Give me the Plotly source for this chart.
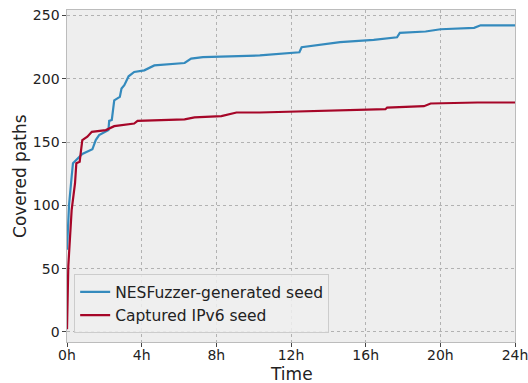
import plotly.graph_objects as go

# Time in hours, covered paths
blue_t = [0.0, 0.11, 0.25, 0.32, 0.82, 1.36, 1.54, 1.72, 2.22, 2.26, 2.40, 2.53, 2.83, 2.92, 3.07, 3.30, 3.60, 4.14, 4.68, 6.30, 6.65, 7.28, 10.33, 11.58, 12.45, 12.57, 14.63, 16.43, 17.68, 17.83, 19.21, 20.01, 21.81, 22.16, 24.0]
blue_v = [65, 100.5, 122.8, 133.3, 140.6, 144.3, 151.6, 155.5, 159.5, 166.8, 167.5, 183, 185.7, 192.3, 195, 202, 205.4, 206.7, 210.6, 212.5, 216, 217.2, 218.5, 220.3, 221, 225, 229, 230.8, 232.8, 236.3, 237.4, 239.2, 240.3, 242.3, 242.3]

red_t = [0.0, 0.07, 0.25, 0.43, 0.50, 0.68, 0.74, 0.82, 1.09, 1.33, 2.08, 2.53, 3.60, 3.78, 6.30, 6.83, 8.27, 9.08, 10.33, 17.06, 17.15, 19.12, 19.48, 21.99, 24.0]
red_v = [2, 52, 96.5, 117.5, 133.3, 134.5, 142, 151.6, 154.2, 158.1, 159.5, 162.6, 164.7, 166.8, 167.9, 169.5, 170.5, 173.4, 173.4, 176, 177.3, 178.4, 180.5, 181.3, 181.3]

x_tickvals = [0, 4, 8, 12, 16, 20, 24]
x_ticktext = ["0h", "4h", "8h", "12h", "16h", "20h", "24h"]
y_tickvals = [0, 50, 100, 150, 200, 250]

fig = go.Figure()
fig.add_trace(go.Scatter(x=blue_t, y=blue_v, mode="lines", name="NESFuzzer-generated seed",
                         line=dict(color="#348ABD", width=2.2)))
fig.add_trace(go.Scatter(x=red_t, y=red_v, mode="lines", name="Captured IPv6 seed",
                         line=dict(color="#A60628", width=2.2)))

axis_common = dict(
    showgrid=True, gridcolor="#b2b2b2", griddash="dot", gridwidth=0.8,
    showline=True, linecolor="#bcbcbc", linewidth=1.2, mirror=True,
    ticks="outside", ticklen=3.5, tickcolor="#444", tickwidth=1,
    zeroline=False, automargin=False, ticklabeloverflow="allow",
    tickfont=dict(family="DejaVu Sans", size=14, color="#222"),
)

fig.update_layout(
    width=528, height=383,
    margin=dict(l=67, r=13, t=10, b=41),
    paper_bgcolor="white", plot_bgcolor="#eeeeee",
    font=dict(family="DejaVu Sans", color="#222"),
    xaxis=dict(range=[0, 24], tickvals=x_tickvals, ticktext=x_ticktext,
               ticklabelstandoff=-3, **axis_common),
    yaxis=dict(range=[-8, 254.4], tickvals=y_tickvals, **axis_common),
    legend=dict(x=0.016, y=0.026, xanchor="left", yanchor="bottom",
                bgcolor="rgba(238,238,238,0.85)", bordercolor="#cccccc", borderwidth=1,
                font=dict(family="DejaVu Sans", size=15.5, color="#222"),
                tracegroupgap=0, itemwidth=30),
    showlegend=True,
    annotations=[
        dict(text="Time", xref="paper", yref="paper", x=0.5, y=-0.06, yanchor="top",
             xanchor="center", showarrow=False, font=dict(family="DejaVu Sans", size=17, color="#222")),
        dict(text="Covered paths", xref="paper", yref="paper", x=-0.105, y=0.5,
             xanchor="center", yanchor="middle", textangle=-90, showarrow=False,
             font=dict(family="DejaVu Sans", size=17, color="#222")),
    ],
)

fig.write_html("out.html", config={"displayModeBar": False},
               post_script="document.body.style.margin='0';document.body.style.overflow='hidden';")
